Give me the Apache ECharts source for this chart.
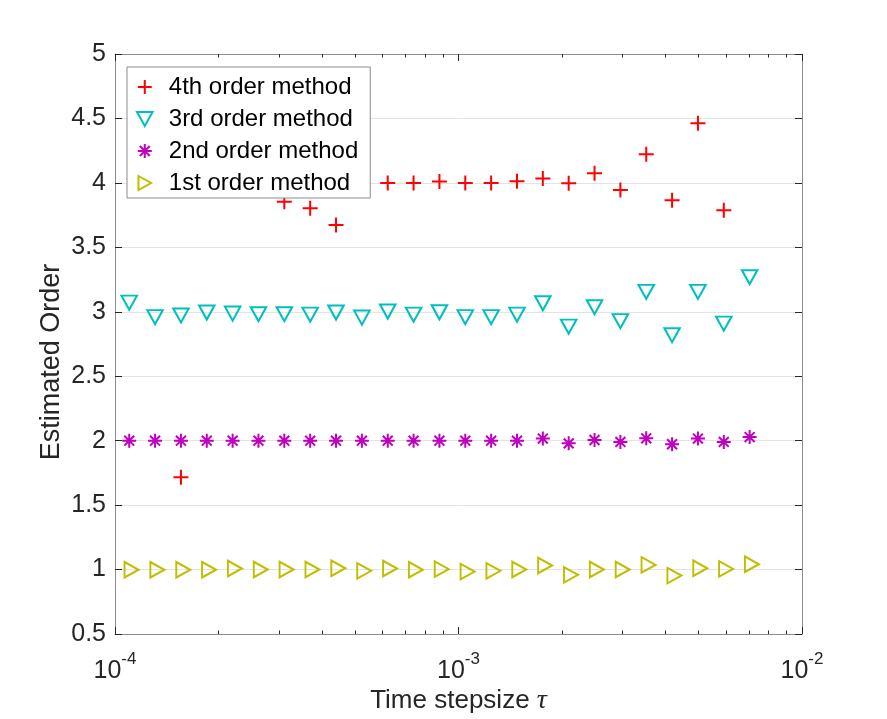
<!DOCTYPE html>
<html>
<head>
<meta charset="utf-8">
<script src="https://cdn.jsdelivr.net/npm/echarts@6.0.0/dist/echarts.min.js"></script>
<style>
  html, body { margin: 0; padding: 0; background: #fff; }
  #chart { width: 887px; height: 719px; }
</style>
</head>
<body>
<div id="chart"></div>
<script>
// time step sizes (x)
const tau = [
  1.100e-4, 1.308e-4, 1.556e-4, 1.850e-4, 2.200e-4, 2.616e-4, 3.111e-4, 3.700e-4,
  4.400e-4, 5.233e-4, 6.223e-4, 7.400e-4, 8.800e-4, 1.0465e-3, 1.2445e-3, 1.480e-3,
  1.760e-3, 2.093e-3, 2.489e-3, 2.960e-3, 3.520e-3, 4.186e-3, 4.978e-3, 5.920e-3, 7.040e-3
];

// estimated orders (null = not visible / hidden under the legend)
const order4 = [null, null, 1.716, null, null, null, 3.854, 3.803, 3.673, null, 4.000, 4.000, 4.010,
  4.000, 4.000, 4.012, 4.035, 3.997, 4.074, 3.945, 4.222, 3.865, 4.462, 3.787, null];
const order3 = [3.089, 2.976, 2.989, 3.012, 3.004, 2.999, 2.999, 2.996, 3.012, 2.973, 3.020, 2.996, 3.014,
  2.976, 2.976, 2.996, 3.084, 2.903, 3.053, 2.945, 3.172, 2.836, 3.172, 2.926, 3.286];
const order2 = [2.000, 2.000, 2.000, 2.000, 2.000, 2.000, 2.000, 2.000, 2.000, 2.000, 2.000, 2.000, 2.000,
  2.000, 2.000, 2.000, 2.016, 1.979, 2.005, 1.990, 2.018, 1.972, 2.016, 1.990, 2.028];
const order1 = [0.998, 0.998, 0.998, 0.998, 1.008, 1.000, 1.000, 1.000, 1.010, 0.990, 1.008, 0.998, 1.003,
  0.984, 0.990, 1.000, 1.031, 0.959, 1.000, 1.000, 1.036, 0.953, 1.010, 1.005, 1.041];

const seriesNames = ['4th order method', '3rd order method', '2nd order method', '1st order method'];
const minorTicks = [2e-4, 3e-4, 4e-4, 5e-4, 6e-4, 7e-4, 8e-4, 9e-4, 2e-3, 3e-3, 4e-3, 5e-3, 6e-3, 7e-3, 8e-3, 9e-3];
const xTitle = 'Time stepsize ';
const yTitle = 'Estimated Order';

const FONT = '"Liberation Sans", Arial, Helvetica, sans-serif';
const TEXT = '#262626';
const AXIS = '#8c8c8c';

const PLUS = 'path://M10,0L10,20M0,10L20,10';
const STAR = 'path://M10,0L10,20M0,10L20,10M2.93,2.93L17.07,17.07M2.93,17.07L17.07,2.93';
const TRI_DOWN = 'path://M0,0L15,0L7.5,13.5Z';
const TRI_RIGHT = 'path://M0,0L13.5,7.5L0,15Z';

const pts = (vals) => tau.map((t, i) => [t, vals[i]]).filter((d) => d[1] != null);

const markers = [
  { name: seriesNames[0], vals: order4, symbol: PLUS, size: 15, offset: [0, 0], color: '#ff0000' },
  { name: seriesNames[1], vals: order3, symbol: TRI_DOWN, size: [15.5, 14], offset: [0, 2.3], color: '#00bfbf' },
  { name: seriesNames[2], vals: order2, symbol: STAR, size: 14, offset: [0, 0], color: '#bf00bf' },
  { name: seriesNames[3], vals: order1, symbol: TRI_RIGHT, size: [14, 15.5], offset: [2.3, 0], color: '#bfbf00' }
];

const logAxis = (extra) => Object.assign({
  type: 'log',
  logBase: 10,
  min: 1e-4,
  max: 1e-2,
  axisLine: { show: false },
  axisLabel: { show: false },
  splitLine: { show: false },
  minorTick: { show: false },
  axisPointer: { show: false }
}, extra);

// minor ticks of the log axis, placed on a plain axis that spans the decades
const minorAxis = (position) => ({
  type: 'value',
  position,
  min: -4,
  max: -2,
  axisLine: { show: false },
  axisLabel: { show: false },
  splitLine: { show: false },
  axisTick: { show: true, inside: true, length: 3.5, lineStyle: { color: TEXT }, customValues: minorTicks.map(Math.log10) },
  axisPointer: { show: false }
});

const chart = echarts.init(document.getElementById('chart'), null, { renderer: 'canvas' });

chart.setOption({
  animation: false,
  backgroundColor: '#fff',
  grid: { left: 115, right: 85, top: 54, bottom: 85, outerBoundsMode: 'none' },
  legend: {
    orient: 'vertical',
    left: 127,
    top: 67,
    z: 10,
    selectedMode: false,
    itemWidth: 38,
    itemHeight: 14,
    itemGap: 8,
    padding: [8, 12, 3, 9],
    backgroundColor: '#fff',
    borderColor: AXIS,
    borderWidth: 1,
    borderRadius: 0,
    textStyle: { fontFamily: FONT, fontSize: 24, color: '#000', lineHeight: 22 },
    data: markers.map((m) => ({
      name: m.name,
      icon: m.symbol,
      itemStyle: { color: 'transparent', borderColor: m.color, borderWidth: 2, opacity: 1 }
    }))
  },
  xAxis: [
    logAxis({
      position: 'bottom',
      axisLine: { show: true, onZero: false, lineStyle: { color: AXIS, width: 1 } },
      axisTick: { show: true, inside: true, length: 7, lineStyle: { color: TEXT } },
      axisLabel: {
        show: true,
        margin: 17,
        formatter: (v) => '{b|10}{s|' + Math.round(Math.log10(v)) + '}',
        rich: {
          b: { fontFamily: FONT, fontSize: 25, color: TEXT, verticalAlign: 'top', padding: [8, 0, 0, 0] },
          s: { fontFamily: FONT, fontSize: 17, color: TEXT, verticalAlign: 'top' }
        }
      },
      name: '{a|' + xTitle + '}{t|τ}',
      nameLocation: 'middle',
      nameGap: 53,
      nameMoveOverlap: false,
      nameTextStyle: {
        rich: {
          a: { fontFamily: FONT, fontSize: 26, color: TEXT },
          t: { fontFamily: '"Liberation Serif", "DejaVu Serif", serif', fontStyle: 'italic', fontSize: 28, color: TEXT }
        }
      }
    }),
    minorAxis('bottom'),
    logAxis({
      position: 'top',
      axisLine: { show: true, onZero: false, lineStyle: { color: AXIS, width: 1 } },
      axisTick: { show: true, inside: true, length: 7, lineStyle: { color: TEXT } }
    }),
    minorAxis('top')
  ],
  yAxis: [
    {
      type: 'value',
      position: 'left',
      min: 0.5,
      max: 5,
      interval: 0.5,
      axisLine: { show: true, onZero: false, lineStyle: { color: AXIS, width: 1 } },
      axisTick: { show: true, inside: true, length: 7, lineStyle: { color: TEXT } },
      axisLabel: { margin: 9, fontFamily: FONT, fontSize: 25, color: TEXT },
      splitLine: { show: true, lineStyle: { color: '#e3e3e3', width: 1 } }
    },
    {
      type: 'value',
      position: 'right',
      min: 0.5,
      max: 5,
      interval: 0.5,
      axisLine: { show: true, onZero: false, lineStyle: { color: AXIS, width: 1 } },
      axisTick: { show: true, inside: true, length: 7, lineStyle: { color: TEXT } },
      axisLabel: { show: false },
      splitLine: { show: false }
    }
  ],
  graphic: [{
    type: 'text',
    x: 52,
    y: 362,
    rotation: Math.PI / 2,
    style: {
      text: yTitle,
      fontFamily: FONT,
      fontSize: 27,
      fill: TEXT,
      align: 'center',
      verticalAlign: 'middle'
    }
  }],
  series: markers.map((m) => ({
    name: m.name,
    type: 'scatter',
    xAxisIndex: 0,
    yAxisIndex: 0,
    data: pts(m.vals),
    symbol: m.symbol,
    symbolSize: m.size,
    symbolOffset: m.offset,
    itemStyle: { color: 'transparent', borderColor: m.color, borderWidth: 2, opacity: 1 },
    emphasis: { disabled: true },
    z: 3
  }))
});
</script>
</body>
</html>
